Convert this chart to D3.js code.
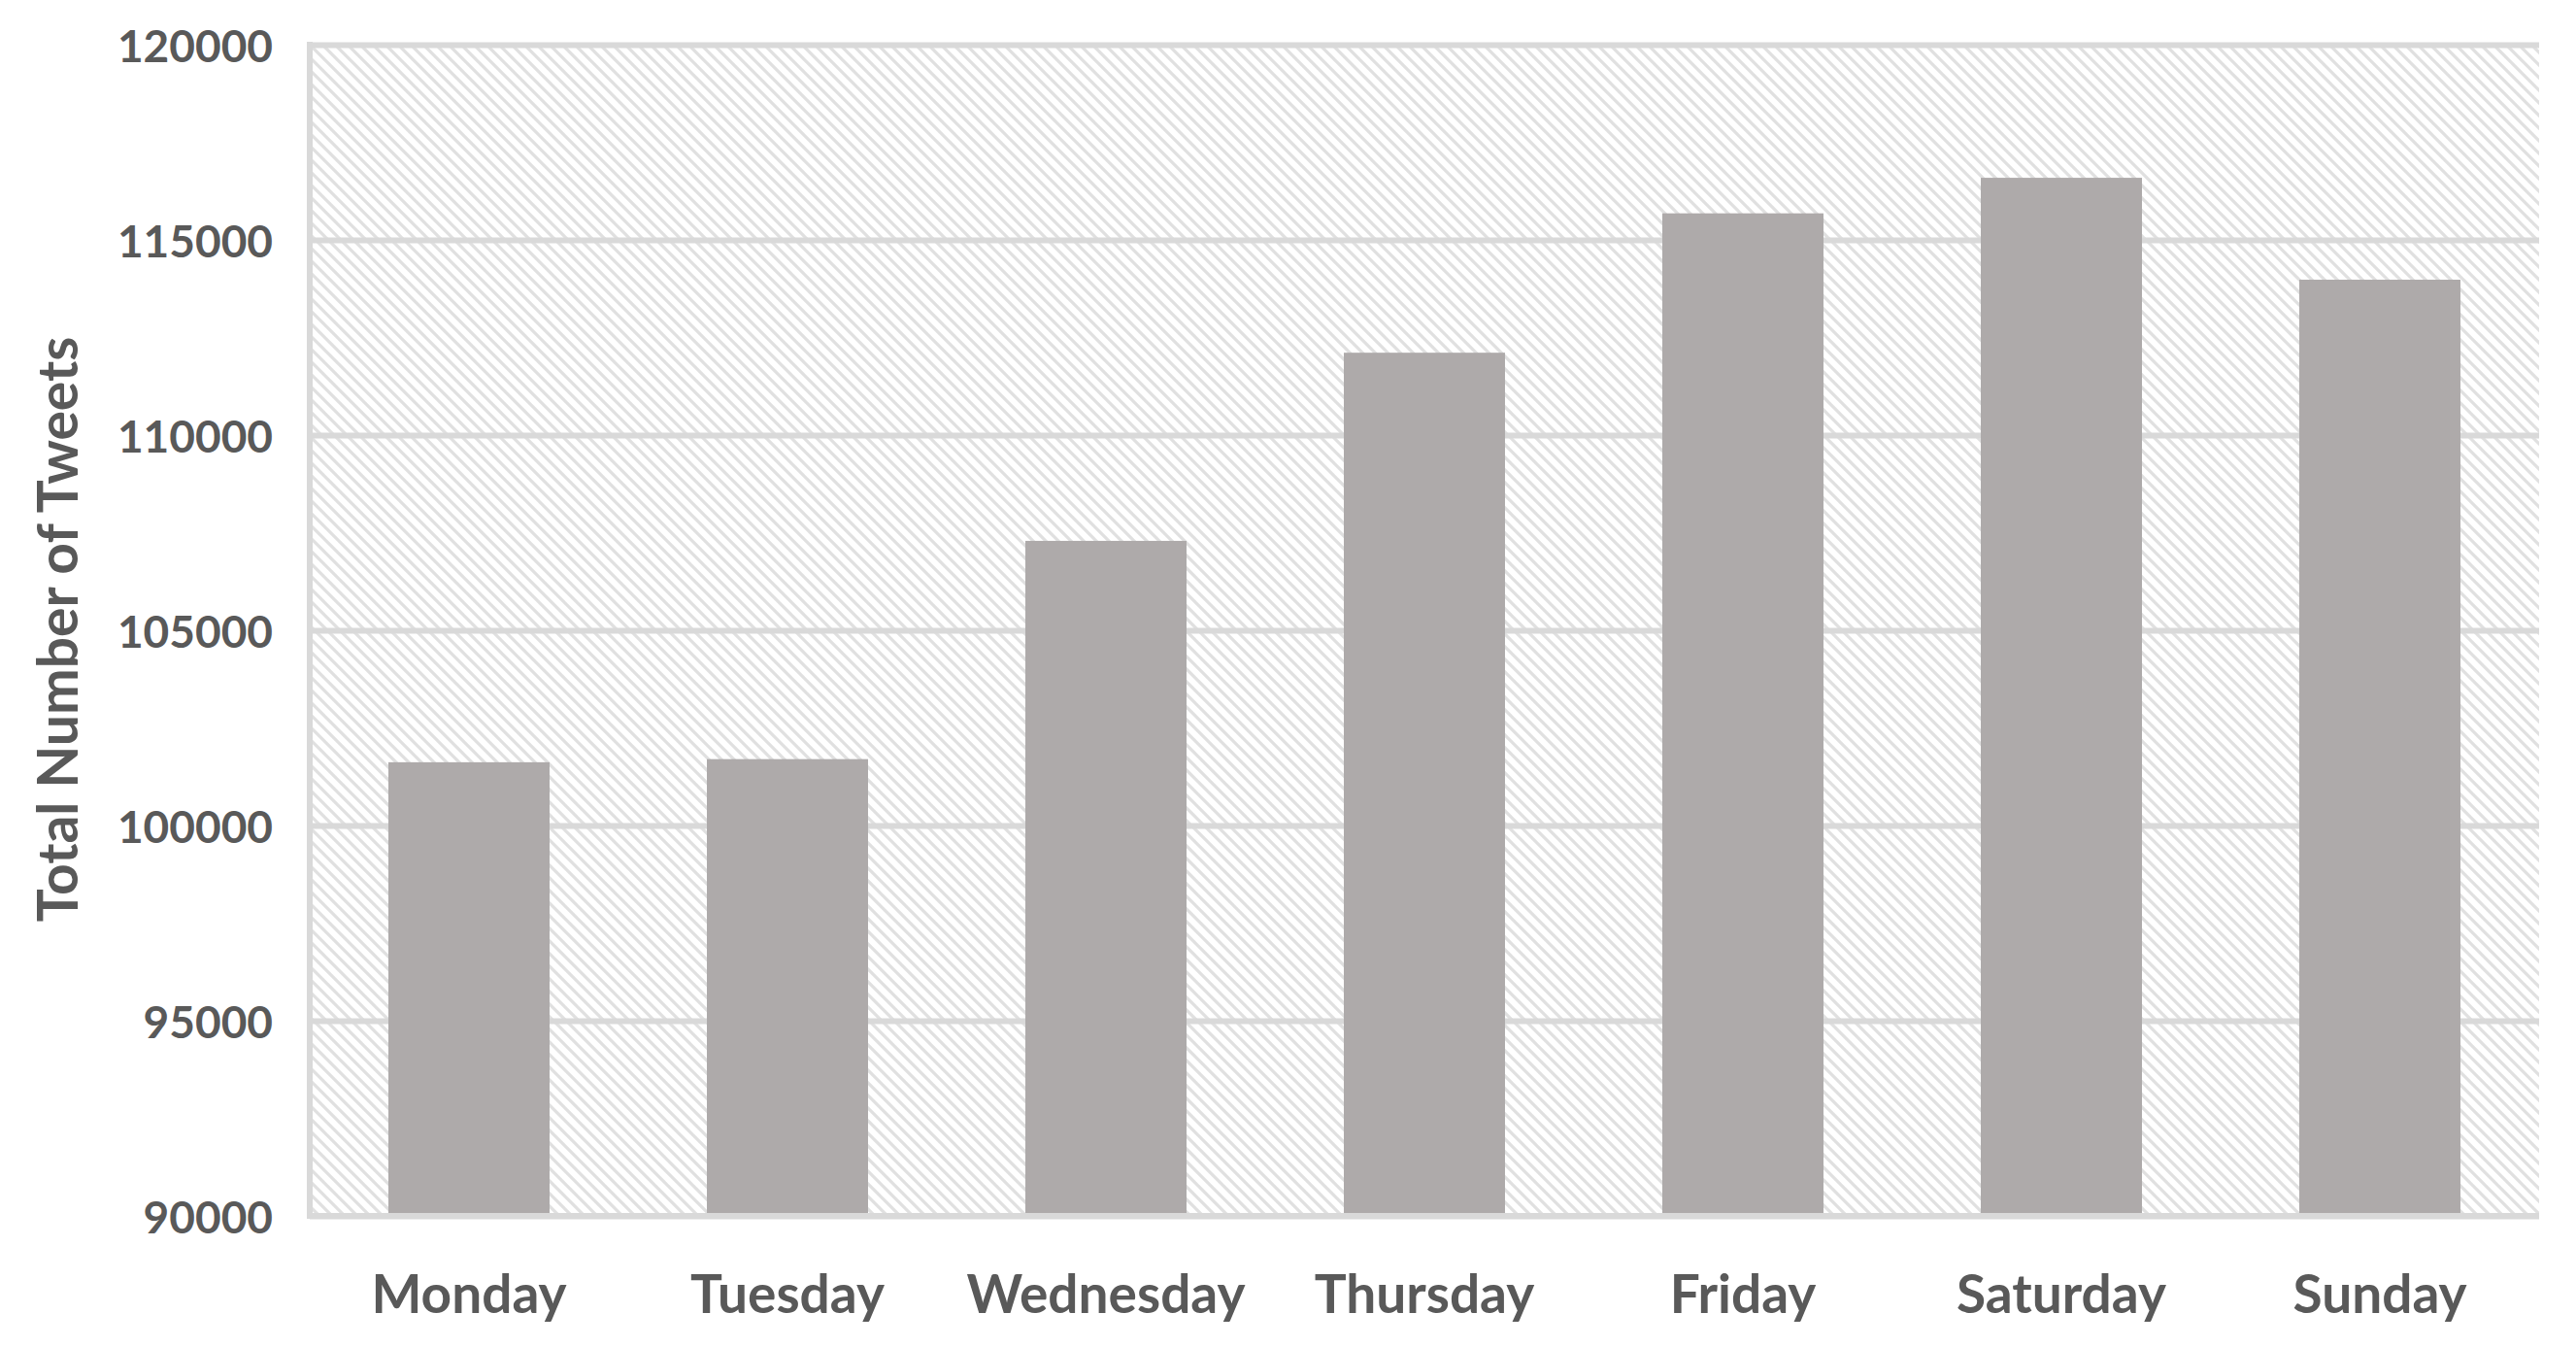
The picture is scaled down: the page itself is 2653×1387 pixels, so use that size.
<!DOCTYPE html>
<html lang="en">
<head>
    <meta charset="UTF-8">
    <title>Total Number of Tweets by Day</title>
    <script src="https://cdn.jsdelivr.net/npm/d3@7"></script>
    <style>
        body{
            margin: 0;
            background: #ffffff;
        }
        text{
            font-family: Lato, "Open Sans", sans-serif;
            font-weight: bold;
            fill: #595959;
        }
    </style>
</head>
<body>

<svg id="chart"></svg>

<script>
    // values
    const days = ["Monday", "Tuesday", "Wednesday", "Thursday", "Friday", "Saturday", "Sunday"];
    const tweets = [101620, 101700, 107290, 112110, 115680, 116590, 113980];
    const yTicks = [90000, 95000, 100000, 105000, 110000, 115000, 120000];
    const yTitle = "Total Number of Tweets";

    const width = 2653;
    const height = 1387;
    const margin = {top: 46, right: 38, bottom: 135, left: 319};

    let svg = d3.select("#chart")
        .attr("width", width)
        .attr("height", height)

    // diagonal hatch used behind the bars
    const hatch = 13;
    let pattern = svg.append("defs")
        .append("pattern")
        .attr("id", "hatch")
        .attr("patternUnits", "userSpaceOnUse")
        .attr("width", hatch)
        .attr("height", hatch)
    pattern.append("path")
        .attr("d", "M-3,-3 L" + (hatch + 3) + "," + (hatch + 3)
            + " M-3," + (hatch - 3) + " L3," + (hatch + 3)
            + " M" + (hatch - 3) + ",-3 L" + (hatch + 3) + ",3")
        .attr("stroke", "#e0e0e0")
        .attr("stroke-width", 3.2)

    let x = d3.scaleBand()
        .domain(days)
        .range([margin.left, width - margin.right])
        .paddingInner(0.494)
        .paddingOuter(0.247)

    let y = d3.scaleLinear()
        .domain([90000, 120000])
        .range([height - margin.bottom, margin.top])

    // plot area background
    svg.append("rect")
        .attr("x", margin.left)
        .attr("y", y(120000))
        .attr("width", width - margin.right - margin.left)
        .attr("height", y(90000) - y(120000))
        .attr("fill", "url(#hatch)")

    // gridlines and y tick labels
    let yAxis = d3.axisLeft(y)
        .tickValues(yTicks)
        .tickSize(-(width - margin.right - margin.left))
        .tickPadding(38)
        .tickFormat(d3.format("d"))

    let gy = svg.append("g")
        .attr("transform", "translate(" + margin.left + ",0)")
        .call(yAxis)
    gy.select(".domain").remove()
    gy.selectAll(".tick line")
        .attr("stroke", "#d9d9d9")
        .attr("stroke-width", 6)
    gy.selectAll(".tick text")
        .attr("font-size", 46)
        .attr("dy", "0.38em")

    // left border of the plot area
    svg.append("line")
        .attr("x1", margin.left)
        .attr("x2", margin.left)
        .attr("y1", y(120000) - 3)
        .attr("y2", y(90000) + 3)
        .attr("stroke", "#d9d9d9")
        .attr("stroke-width", 6)

    // bars
    svg.append("g")
        .selectAll("rect")
        .data(days)
        .join("rect")
        .attr("x", d => x(d))
        .attr("y", (d, i) => y(tweets[i]))
        .attr("width", x.bandwidth())
        .attr("height", (d, i) => y(90000) - y(tweets[i]))
        .attr("fill", "#aeaaaa")

    // bottom axis line on top of the bars
    svg.append("line")
        .attr("x1", margin.left - 3)
        .attr("x2", width - margin.right)
        .attr("y1", y(90000))
        .attr("y2", y(90000))
        .attr("stroke", "#d9d9d9")
        .attr("stroke-width", 6)

    // x labels
    let xAxis = d3.axisBottom(x)
        .tickSize(0)
        .tickPadding(61)
    let gx = svg.append("g")
        .attr("transform", "translate(0," + y(90000) + ")")
        .call(xAxis)
    gx.select(".domain").remove()
    gx.selectAll(".tick text")
        .attr("font-size", 55)

    // y title
    svg.append("text")
        .attr("transform", "translate(80," + 648 + ") rotate(-90)")
        .attr("text-anchor", "middle")
        .attr("font-size", 57)
        .text(yTitle)
</script>

</body>
</html>
